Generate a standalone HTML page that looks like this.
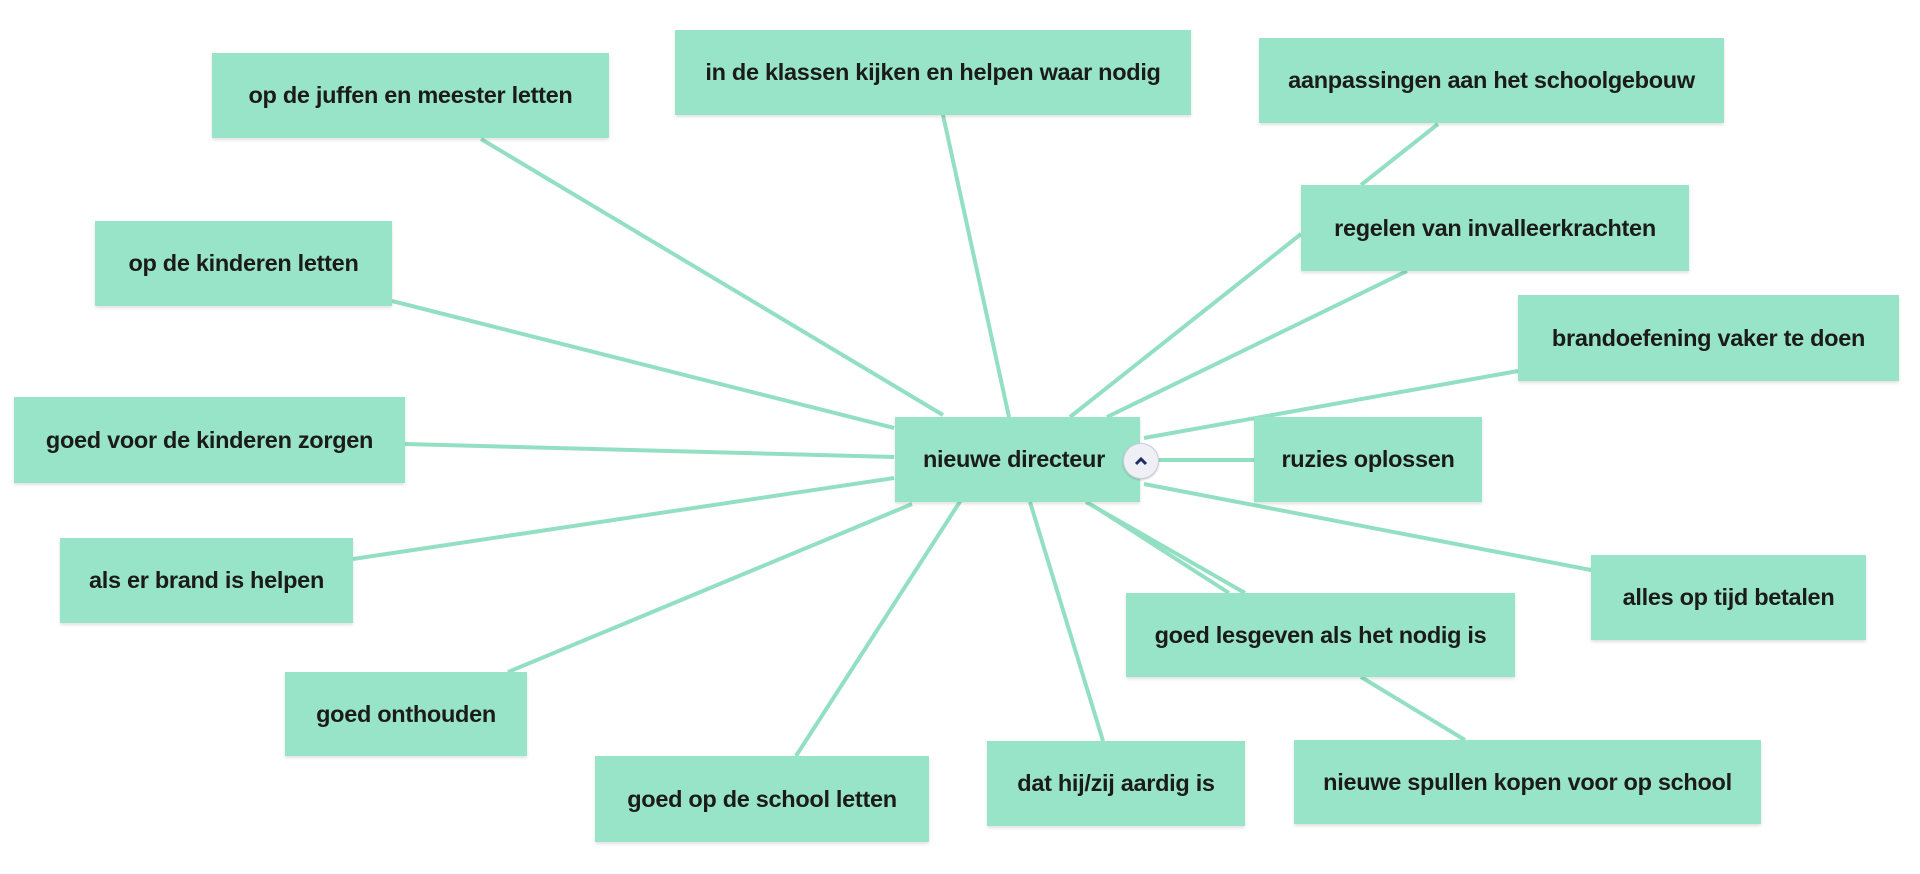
<!DOCTYPE html>
<html><head><meta charset="utf-8"><style>
html,body{margin:0;padding:0;background:#fff;}
body{width:1920px;height:874px;position:relative;overflow:hidden;font-family:"Liberation Sans",sans-serif;}
.b{position:absolute;background:#98e4c9;display:flex;align-items:center;justify-content:center;font-size:23.5px;font-weight:bold;color:#1b1b1b;box-shadow:0 2px 3px rgba(0,0,0,0.12);white-space:nowrap;letter-spacing:-0.3px;}
svg{position:absolute;left:0;top:0;}
</style></head><body>
<svg width="1920" height="874">
<g stroke="#93dfc3" stroke-width="4" fill="none">
<line x1="481" y1="139" x2="943" y2="415"/>
<line x1="943" y1="115" x2="1009" y2="417"/>
<line x1="392" y1="301" x2="894" y2="428"/>
<line x1="405" y1="444" x2="894" y2="457"/>
<line x1="353" y1="559" x2="894" y2="478"/>
<line x1="508" y1="672" x2="912" y2="504"/>
<line x1="796" y1="756" x2="961" y2="500"/>
<line x1="1030" y1="502" x2="1103" y2="741"/>
<line x1="1086" y1="502" x2="1245" y2="593"/>
<line x1="1092" y1="505" x2="1229" y2="593"/>
<line x1="1361" y1="677" x2="1465" y2="740"/>
<line x1="1144" y1="484" x2="1591" y2="570"/>
<line x1="1159" y1="460" x2="1254" y2="460"/>
<line x1="1144" y1="438" x2="1518" y2="371"/>
<line x1="1070" y1="417" x2="1301" y2="234"/>
<line x1="1107" y1="417" x2="1407" y2="271"/>
<line x1="1361" y1="185" x2="1438" y2="124"/>
</g>
</svg>
<div class="b" style="left:212px;top:53px;width:397px;height:85px">op de juffen en meester letten</div>
<div class="b" style="left:675px;top:30px;width:516px;height:85px">in de klassen kijken en helpen waar nodig</div>
<div class="b" style="left:95px;top:221px;width:297px;height:85px">op de kinderen letten</div>
<div class="b" style="left:14px;top:397px;width:391px;height:86px">goed voor de kinderen zorgen</div>
<div class="b" style="left:60px;top:538px;width:293px;height:85px">als er brand is helpen</div>
<div class="b" style="left:285px;top:672px;width:242px;height:84px">goed onthouden</div>
<div class="b" style="left:595px;top:756px;width:334px;height:86px">goed op de school letten</div>
<div class="b" style="left:895px;top:417px;width:245px;height:85px;justify-content:flex-start;padding-left:28px;box-sizing:border-box">nieuwe directeur</div>
<div style="position:absolute;left:1123px;top:443px;width:34px;height:34px;border-radius:50%;background:#eef0f6;border:1px solid #c9cdd8;box-shadow:0 1px 2px rgba(0,0,0,0.2);display:flex;align-items:center;justify-content:center">
<svg width="14" height="10" style="position:static"><polyline points="2,8 7,3 12,8" stroke="#1f2f66" stroke-width="3" fill="none"/></svg></div>
<div class="b" style="left:1259px;top:38px;width:465px;height:85px">aanpassingen aan het schoolgebouw</div>
<div class="b" style="left:1301px;top:185px;width:388px;height:86px">regelen van invalleerkrachten</div>
<div class="b" style="left:1518px;top:295px;width:381px;height:86px">brandoefening vaker te doen</div>
<div class="b" style="left:1254px;top:417px;width:228px;height:85px">ruzies oplossen</div>
<div class="b" style="left:1591px;top:555px;width:275px;height:85px">alles op tijd betalen</div>
<div class="b" style="left:1126px;top:593px;width:389px;height:84px">goed lesgeven als het nodig is</div>
<div class="b" style="left:987px;top:741px;width:258px;height:85px">dat hij/zij aardig is</div>
<div class="b" style="left:1294px;top:740px;width:467px;height:84px">nieuwe spullen kopen voor op school</div>
</body></html>
